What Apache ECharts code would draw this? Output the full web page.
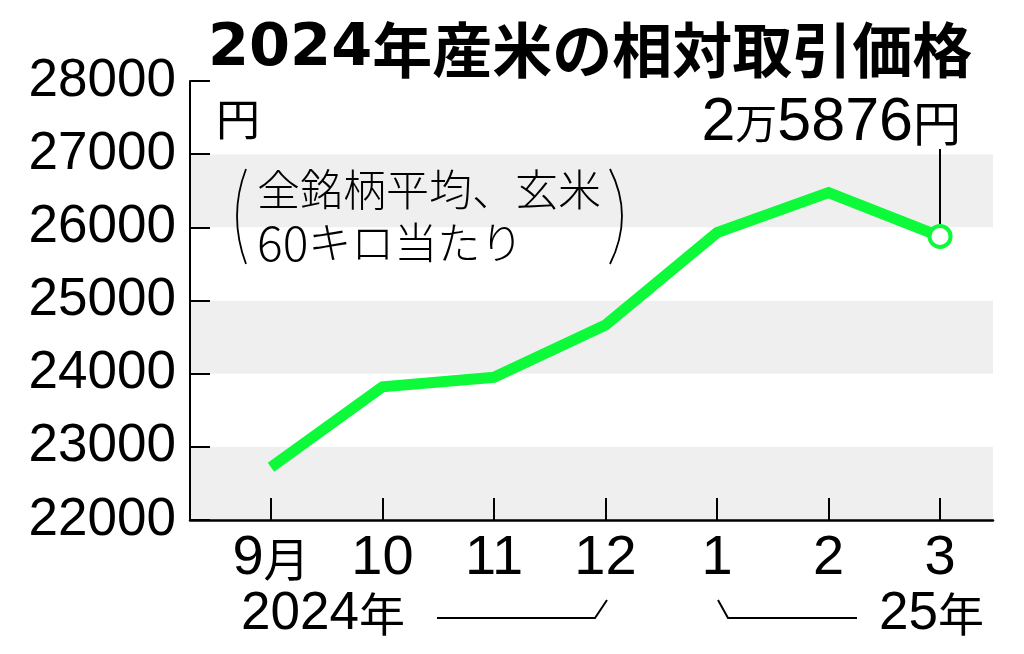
<!DOCTYPE html>
<html>
<head>
<meta charset="utf-8">
<title>2024年産米の相対取引価格</title>
<script src="https://cdn.jsdelivr.net/npm/echarts@6/dist/echarts.min.js"></script>
<style>
html, body { margin: 0; padding: 0; background: #fff; }
#chart { width: 1024px; height: 654px; }
</style>
</head>
<body>
<div id="chart"></div>
<script>
// 月ごとの相対取引価格（全銘柄平均、玄米60キロ当たり、円）
var months = ['9月', '10', '11', '12', '1', '2', '3'];
var prices = [22720, 23820, 23950, 24665, 25927, 26475, 25876];
var yMin = 22000, yMax = 28000, yStep = 1000;
var lastLabel = ['2', '万', '5876', '円'];
var leaderTop = 27070;

var GREEN = '#0cfa3a';
var NUM = "'Liberation Sans', 'Noto Sans CJK JP', sans-serif";
var JP = "'Noto Sans CJK JP', sans-serif";

var myChart = echarts.init(document.getElementById('chart'), null, { renderer: 'canvas' });

var last = prices.length - 1;
var seriesData = prices.map(function (v, i) {
    if (i !== last) {
        return { value: [i, v], symbol: 'none' };
    }
    return {
        value: [i, v],
        symbol: 'circle',
        label: {
            show: true,
            position: 'top',
            distance: 0,
            align: 'right',
            verticalAlign: 'bottom',
            offset: [21, -71],
            formatter: '{a|' + lastLabel[0] + '}{b|' + lastLabel[1] + '}{a|' + lastLabel[2] + '}{c|' + lastLabel[3] + '}',
            rich: {
                a: { fontSize: 61, fontFamily: NUM, color: '#000', lineHeight: 60 },
                b: { fontSize: 42, fontFamily: JP, color: '#000', lineHeight: 60 },
                c: { fontSize: 48, fontFamily: JP, color: '#000', lineHeight: 60 }
            }
        }
    };
});

var option = {
    backgroundColor: '#fff',
    animation: false,
    grid: {
        left: 190,
        right: 31,
        top: 81,
        bottom: 134,
        containLabel: false
    },
    xAxis: {
        type: 'value',
        min: -0.726,
        max: 6.475,
        axisLine: { show: true, onZero: false, lineStyle: { color: '#000', width: 2.5 } },
        axisTick: {
            show: true,
            inside: true,
            length: 22,
            customValues: months.map(function (m, i) { return i; }),
            lineStyle: { color: '#000', width: 2 }
        },
        axisLabel: {
            show: true,
            margin: 11,
            customValues: months.map(function (m, i) { return i; }),
            formatter: function (v) {
                var s = months[Math.round(v)] || '';
                if (s.indexOf('月') >= 0) {
                    return '{d|' + s.replace('月', '') + '}{m|月}';
                }
                return '{d|' + s + '}';
            },
            rich: {
                d: { fontSize: 56, fontFamily: NUM, color: '#000', lineHeight: 56 },
                m: { fontSize: 46, fontFamily: JP, color: '#000', lineHeight: 56 }
            }
        },
        splitLine: { show: false }
    },
    yAxis: {
        type: 'value',
        min: yMin,
        max: yMax,
        interval: yStep,
        axisLine: { show: true, onZero: false, lineStyle: { color: '#000', width: 2 } },
        axisTick: { show: true, inside: true, length: 20, lineStyle: { color: '#000', width: 2 } },
        axisLabel: {
            margin: 14,
            fontSize: 53,
            fontFamily: NUM,
            color: '#000',
            formatter: function (v) { return String(v); }
        },
        splitLine: { show: false },
        splitArea: { show: true, areaStyle: { color: ['#efefef', '#ffffff'] } }
    },
    series: [{
        type: 'line',
        data: seriesData,
        showSymbol: true,
        symbolSize: 21,
        lineStyle: { color: GREEN, width: 11, join: 'miter', cap: 'butt' },
        itemStyle: { color: '#fff', borderColor: GREEN, borderWidth: 4 },
        z: 3,
        markLine: {
            silent: true,
            symbol: ['none', 'none'],
            label: { show: false },
            lineStyle: { color: '#000', width: 2, type: 'solid' },
            data: [[
                { coord: [last, prices[last] + 170] },
                { coord: [last, leaderTop] }
            ]]
        }
    }],
    graphic: [
        {
            type: 'text',
            z: 100,
            x: 208, y: 50,
            style: {
                text: '{d|2024}{n|年産米の相対取引価格}',
                textVerticalAlign: 'middle',
                rich: {
                    d: { fontSize: 59, fontWeight: 'bold', fontFamily: "'DejaVu Sans', sans-serif", fill: '#000', lineHeight: 62 },
                    n: { fontSize: 60, fontWeight: 'bold', fontFamily: JP, fill: '#000', lineHeight: 62 }
                }
            }
        },
        {
            type: 'text',
            z: 100,
            x: 216, y: 119,
            style: { text: '円', font: "44px 'Noto Sans CJK JP'", fill: '#000', textVerticalAlign: 'middle' }
        },
        {
            type: 'text',
            z: 100,
            x: 257, y: 190,
            style: { text: '全銘柄平均、玄米', font: "300 43px 'Noto Sans CJK JP'", fill: '#000', textVerticalAlign: 'middle' }
        },
        {
            type: 'text',
            z: 100,
            x: 257, y: 243,
            style: {
                text: '{d|60}{n|キロ当たり}',
                textVerticalAlign: 'middle',
                rich: {
                    d: { fontSize: 48, fontWeight: 300, fontFamily: JP, fill: '#000', lineHeight: 50 },
                    n: { fontSize: 43, fontWeight: 300, fontFamily: JP, fill: '#000', lineHeight: 50 }
                }
            }
        },
        {
            type: 'bezierCurve',
            z: 100,
            shape: { x1: 246, y1: 169, x2: 246, y2: 264, cpx1: 228, cpy1: 216 },
            style: { stroke: '#000', lineWidth: 1.8, fill: null }
        },
        {
            type: 'bezierCurve',
            z: 100,
            shape: { x1: 610, y1: 169, x2: 610, y2: 264, cpx1: 634, cpy1: 216 },
            style: { stroke: '#000', lineWidth: 1.8, fill: null }
        },
        {
            type: 'text',
            z: 100,
            x: 241, y: 614,
            style: {
                text: '{d|2024}{n|年}',
                textVerticalAlign: 'middle',
                rich: {
                    d: { fontSize: 53, fontFamily: NUM, fill: '#000', lineHeight: 56 },
                    n: { fontSize: 46, fontFamily: JP, fill: '#000', lineHeight: 56 }
                }
            }
        },
        {
            type: 'polyline',
            z: 100,
            shape: { points: [[437, 618], [595, 618], [607, 600]] },
            style: { stroke: '#000', lineWidth: 2, fill: null }
        },
        {
            type: 'polyline',
            z: 100,
            shape: { points: [[718, 600], [728, 618], [857, 618]] },
            style: { stroke: '#000', lineWidth: 2, fill: null }
        },
        {
            type: 'text',
            z: 100,
            x: 984, y: 614,
            style: {
                text: '{d|25}{n|年}',
                textAlign: 'right',
                textVerticalAlign: 'middle',
                rich: {
                    d: { fontSize: 53, fontFamily: NUM, fill: '#000', lineHeight: 56 },
                    n: { fontSize: 46, fontFamily: JP, fill: '#000', lineHeight: 56 }
                }
            }
        }
    ]
};

myChart.setOption(option);
</script>
</body>
</html>
